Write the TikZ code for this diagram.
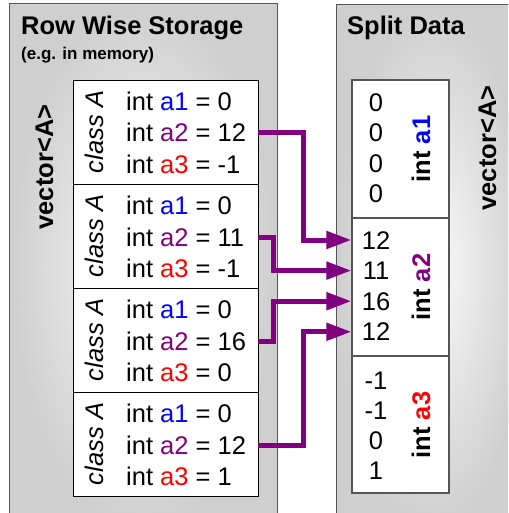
\documentclass[tikz,border=0pt]{standalone}
\usepackage{fontspec}
\setmainfont{Liberation Sans}
\usetikzlibrary{arrows.meta}
\definecolor{cA}{RGB}{0,0,255}
\definecolor{cB}{RGB}{128,0,128}
\definecolor{cC}{RGB}{255,0,0}
\definecolor{frame}{RGB}{85,85,85}
\tikzset{
  panel/.style={draw=frame, line width=1pt, inner color=gray!4, outer color=gray!38},
  cellbox/.style={draw=black, line width=0.9pt, fill=white},
  colbox/.style={draw=frame, line width=1.2pt, fill=white},
  txt/.style={font=\fontsize{25.5}{30}\selectfont, inner sep=0pt, text height=18pt, text depth=0pt},
  itxt/.style={font=\fontsize{25.5}{30}\selectfont\itshape, inner sep=0pt, text height=18pt, text depth=0pt},
  btxt/.style={font=\fontsize{25.5}{30}\selectfont\bfseries, inner sep=0pt, text height=18pt, text depth=0pt},
  ttl/.style={font=\fontsize{25.5}{30}\selectfont\bfseries, inner sep=0pt, anchor=base west},
  sub/.style={font=\fontsize{17}{20}\selectfont\bfseries, inner sep=0pt, anchor=base west},
  arr/.style={draw=cB, line width=5pt, line join=miter, -{Triangle[length=25pt,width=17pt]}}
}
\begin{document}
\begin{tikzpicture}[x=1pt,y=-1pt]
\useasboundingbox (0,0) rectangle (508,513);
\clip (0,0) rectangle (508,513);
% panels
\shade[panel] (9,4) rectangle (277,530);
\shade[panel] (336,5) rectangle (530,530);
\node[ttl] (tl) at (21,35) {Row Wise Storage};
\node[sub] (tls) at (21,60) {(e.g. in memory)};
\node[ttl] (tr) at (347,35) {Split Data};
\node[btxt, rotate=90] (vl) at (44,167) {vector<A>};
\node[btxt, rotate=90] (vr) at (487,148) {vector<A>};
% left boxes
\foreach \i/\top/\vb/\vc in {1/80/12/-1, 2/184/11/-1, 3/288/16/0, 4/392/12/1}{
  \node[cellbox, minimum width=185pt, minimum height=104pt, inner sep=0pt] (b\i) at (165.5,\top+52) {};
  \node[itxt, rotate=90] (c\i) at (94,\top+52) {class A};
  \node[txt, anchor=west] (t\i1) at (126,\top+21.5) {int \textcolor{cA}{a1} = 0};
  \node[txt, anchor=west] (t\i2) at (126,\top+53) {int \textcolor{cB}{a2} = \vb};
  \node[txt, anchor=west] (t\i3) at (126,\top+84.5) {int \textcolor{cC}{a3} = \vc};
}
% right column box
\node[colbox, minimum width=97pt, minimum height=413pt, inner sep=0pt] (rb) at (400.5,286.5) {};
\draw[frame, line width=1.2pt] (rb.west |- 0,218) coordinate (d1) -- (rb.east |- 0,218) coordinate (d1e);
\draw[frame, line width=1.2pt] (rb.west |- 0,356) coordinate (d2) -- (rb.east |- 0,356) coordinate (d2e);
\foreach \k/\v in {1/0,2/0,3/0,4/0}{
  \node[txt] (n1\k) at (376,103+30*\k-30) {\v};
}
\foreach \k/\v in {1/12,2/11,3/16,4/12}{
  \node[txt] (n2\k) at (376,240+30.6*\k-30.6) {\v};
}
\foreach \k/\v in {1/-1,2/-1,3/0,4/1}{
  \node[txt] (n3\k) at (376,380+30*\k-30) {\v};
}
\node[btxt, rotate=90] (s1) at (421,149) {int \textcolor{cA}{a1}};
\node[btxt, rotate=90] (s2) at (421,287) {int \textcolor{cB}{a2}};
\node[btxt, rotate=90] (s3) at (421,425) {int \textcolor{cC}{a3}};
% arrows
\draw[arr] (t12 -| b1.east) -- ++(45,0) |- (n21 -| rb.west);
\draw[arr] (t22 -| b2.east) -- ++(15,0) |- (n22 -| rb.west);
\draw[arr] (t32 -| b3.east) -- ++(15,0) |- (n23 -| rb.west);
\draw[arr] (t42 -| b4.east) -- ++(45,0) |- (n24 -| rb.west);
\end{tikzpicture}
\end{document}
